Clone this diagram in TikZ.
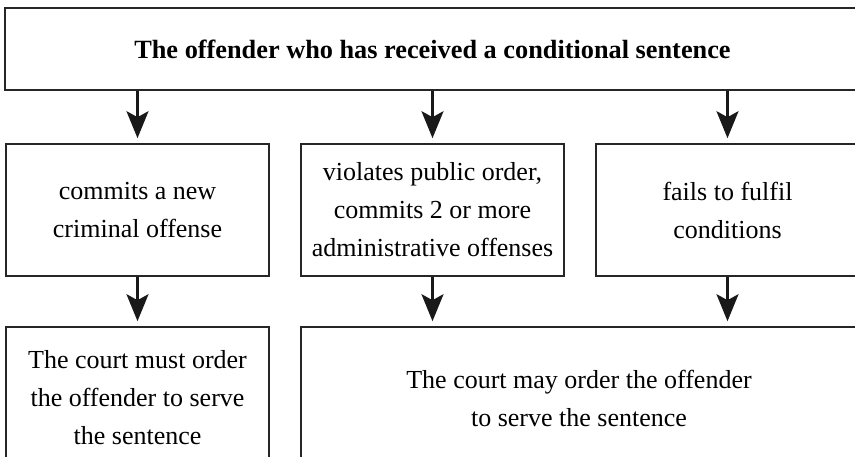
\documentclass[tikz,border=0pt]{standalone}
\usepackage{fontspec}
\setmainfont{Liberation Serif}
\usetikzlibrary{arrows.meta}
\tikzset{
  box/.style={draw=black!85, line width=1.6pt, align=center, inner sep=0pt,
    font=\fontsize{26}{38}\selectfont},
  arr/.style={black!90, line width=2.5pt, shorten >=5pt,
    -{Stealth[length=27pt,width=22pt,inset=6pt]}},
}
\begin{document}
\begin{tikzpicture}[x=1pt,y=-1pt]
    \useasboundingbox (0,0) rectangle (855,457);
    \clip (0,0) rectangle (855,457);

    % Offender at the top
    \node[box, minimum width=875pt, minimum height=82pt] (offender) at (442.5,49) {};
    \node[font=\fontsize{26.3}{38}\selectfont\bfseries] (title) at (432.5,49)
        {The offender who has received a conditional sentence};

    % What the offender does
    \node[box, minimum width=263pt, minimum height=132pt] (crime) at (137.5,210)
        {commits a new\\criminal offense};
    \node[box, minimum width=263pt, minimum height=132pt] (order) at (432.5,210)
        {violates public order,\\commits 2 or more\\administrative offenses};
    \node[box, minimum width=263pt, minimum height=132pt] (cond) at (727.5,210)
        {fails to fulfil\\conditions};

    % What the court does
    \node[box, minimum width=263pt, minimum height=142pt] (must) at (137.5,398)
        {The court must order\\the offender to serve\\the sentence};
    \node[box, minimum width=556pt, minimum height=142pt] (may) at (579,398)
        {The court may order the offender\\to serve the sentence};

    % Arrows
    \draw[arr] (offender.south -| crime.north) -- (crime.north);
    \draw[arr] (offender.south -| order.north) -- (order.north);
    \draw[arr] (offender.south -| cond.north) -- (cond.north);
    \draw[arr] (crime.south) -- (must.north);
    \draw[arr] (order.south) -- (order.south |- may.north);
    \draw[arr] (cond.south) -- (cond.south |- may.north);
\end{tikzpicture}
\end{document}
